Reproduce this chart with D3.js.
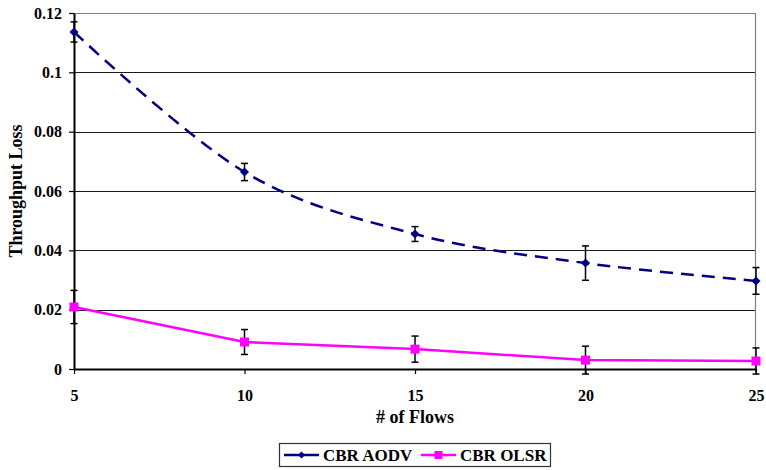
<!DOCTYPE html>
<html>
<head>
<meta charset="utf-8">
<script src="https://cdn.jsdelivr.net/npm/d3@7"></script>
<style>
  body { margin: 0; background: #fff; }
  svg text { font-family: "Liberation Serif", "Times New Roman", serif !important; font-weight: bold; fill: #000; }
</style>
</head>
<body>
<svg id="chart" width="766" height="470"></svg>
<script>
// ---- data ----
const categories = ["5", "10", "15", "20", "25"];
const aodvValues = [0.1136, 0.0664, 0.0455, 0.0357, 0.0297];
const aodvErrors = [0.0034, 0.0029, 0.0025, 0.0058, 0.0045];
const olsrValues = [0.0209, 0.0091, 0.0067, 0.0030, 0.0027];
const olsrErrors = [0.0056, 0.0042, 0.0044, 0.0047, 0.0044];
const seriesNames = ["CBR AODV", "CBR OLSR"];
const yTickValues = [0, 0.02, 0.04, 0.06, 0.08, 0.1, 0.12];
const yTickLabels = ["0", "0.02", "0.04", "0.06", "0.08", "0.1", "0.12"];
const xTitle = "# of Flows";
const yTitle = "Throughput Loss";

// ---- layout ----
const W = 766, H = 470;
const m = { left: 74, right: 10, top: 13, bottom: 101 };
const svg = d3.select("#chart");

const x = d3.scalePoint().domain(categories).range([m.left, W - m.right]).padding(0);
const y = d3.scaleLinear().domain([0, 0.12]).range([H - m.bottom, m.top]);

// gridlines
svg.append("g").selectAll("line")
  .data(yTickValues.filter(v => v > 0 && v < 0.12))
  .join("line")
  .attr("x1", m.left).attr("x2", W - m.right)
  .attr("y1", d => Math.round(y(d)) + 0.5).attr("y2", d => Math.round(y(d)) + 0.5)
  .attr("stroke", "#1a1a1a").attr("stroke-width", 1);

// plot border top / right (gray)
svg.append("path")
  .attr("d", `M${m.left},${m.top + 0.5}H${W - m.right - 0.5}V${H - m.bottom}`)
  .attr("fill", "none").attr("stroke", "#808080").attr("stroke-width", 1.2);

// axes
const yAxis = d3.axisLeft(y).tickValues(yTickValues)
  .tickFormat((d, i) => yTickLabels[i]).tickSize(5).tickSizeOuter(0).tickPadding(7);
const gy = svg.append("g").attr("transform", `translate(${m.left},0)`).call(yAxis);
const xAxis = d3.axisBottom(x).tickSize(5).tickSizeOuter(0).tickPadding(16);
const gx = svg.append("g").attr("transform", `translate(0,${H - m.bottom})`).call(xAxis);
[gx, gy].forEach(g => {
  g.attr("font-family", "Liberation Serif").attr("font-size", 16).attr("font-weight", "bold");
  g.selectAll(".domain").attr("stroke", "#000").attr("stroke-width", 2);
  g.selectAll(".tick line").attr("stroke", "#000").attr("stroke-width", 1.2);
  g.selectAll("text").attr("font-family", "Liberation Serif").attr("font-size", 16)
    .attr("font-weight", "bold").attr("fill", "#000");
});

// axis titles
svg.append("text").attr("x", 415).attr("y", 423).attr("text-anchor", "middle")
  .style("font-size", "18px").text(xTitle);
svg.append("text").attr("transform", `translate(22,${(m.top + H - m.bottom) / 2}) rotate(-90)`)
  .attr("text-anchor", "middle").style("font-size", "18px").text(yTitle);

// lines
const aodvData = categories.map((c, i) => ({ c, v: aodvValues[i], e: aodvErrors[i] }));
const olsrData = categories.map((c, i) => ({ c, v: olsrValues[i], e: olsrErrors[i] }));

svg.append("path").datum(aodvData)
  .attr("d", d3.line().x(d => x(d.c)).y(d => y(d.v)).curve(d3.curveCardinal))
  .attr("fill", "none").attr("stroke", "#000080").attr("stroke-width", 2.5)
  .attr("stroke-dasharray", "13,8");
svg.append("path").datum(olsrData)
  .attr("d", d3.line().x(d => x(d.c)).y(d => y(d.v)))
  .attr("fill", "none").attr("stroke", "#FF00FF").attr("stroke-width", 2.5);

// error bars
function errorBars(data) {
  const g = svg.append("g").attr("stroke", "#000").attr("stroke-width", 1.5);
  data.forEach(d => {
    const cx = x(d.c), y1 = y(d.v - d.e), y2 = y(d.v + d.e);
    g.append("line").attr("x1", cx).attr("x2", cx).attr("y1", y1).attr("y2", y2);
    g.append("line").attr("x1", cx - 3.5).attr("x2", cx + 3.5).attr("y1", y1).attr("y2", y1);
    g.append("line").attr("x1", cx - 3.5).attr("x2", cx + 3.5).attr("y1", y2).attr("y2", y2);
  });
}
errorBars(aodvData);
errorBars(olsrData);

// markers
svg.append("g").selectAll("path").data(aodvData).join("path")
  .attr("d", "M0,-4.5L4.5,0L0,4.5L-4.5,0Z")
  .attr("transform", d => `translate(${x(d.c)},${y(d.v)})`)
  .attr("fill", "#000080");
svg.append("g").selectAll("rect").data(olsrData).join("rect")
  .attr("x", d => x(d.c) - 4.5).attr("y", d => y(d.v) - 4.5)
  .attr("width", 9).attr("height", 9).attr("fill", "#FF00FF");

// legend
const lg = svg.append("g");
lg.append("rect").attr("x", 279.5).attr("y", 443.5).attr("width", 271).attr("height", 23)
  .attr("fill", "#fff").attr("stroke", "#333").attr("stroke-width", 1.2);
const legendItems = [
  { name: seriesNames[0], color: "#000080", x0: 284, marker: "diamond" },
  { name: seriesNames[1], color: "#FF00FF", x0: 421, marker: "square" }
];
legendItems.forEach(it => {
  const ly = 455;
  lg.append("line").attr("x1", it.x0).attr("x2", it.x0 + 35).attr("y1", ly).attr("y2", ly)
    .attr("stroke", it.color).attr("stroke-width", 2.5);
  if (it.marker === "diamond") {
    lg.append("path").attr("d", "M0,-3.5L3.5,0L0,3.5L-3.5,0Z")
      .attr("transform", `translate(${it.x0 + 17.5},${ly})`).attr("fill", it.color);
  } else {
    lg.append("rect").attr("x", it.x0 + 17.5 - 4).attr("y", ly - 4)
      .attr("width", 8).attr("height", 8).attr("fill", it.color);
  }
  lg.append("text").attr("x", it.x0 + 39).attr("y", ly).attr("dy", "0.35em")
    .style("font-size", "17px").text(it.name);
});
</script>
